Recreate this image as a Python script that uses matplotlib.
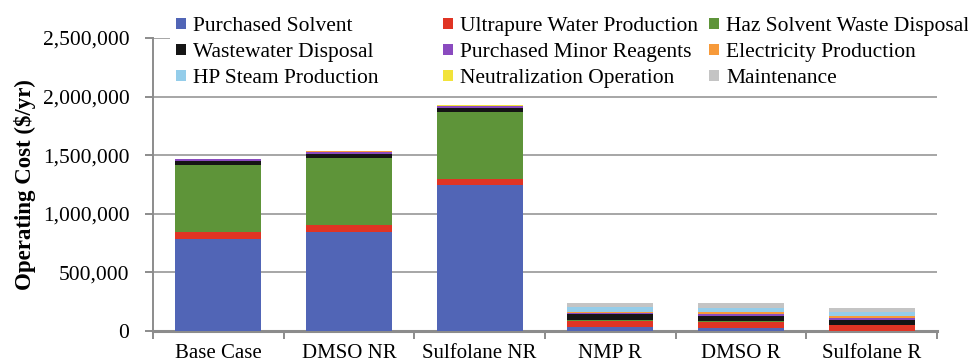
import matplotlib
matplotlib.use("Agg")
import matplotlib.pyplot as plt
from matplotlib.patches import Patch, Rectangle
from matplotlib.ticker import FuncFormatter, FixedLocator
import numpy as np

categories = ["Base Case", "DMSO NR", "Sulfolane NR", "NMP R", "DMSO R", "Sulfolane R"]
series_names = ["Purchased Solvent", "Ultrapure Water Production", "Haz Solvent Waste Disposal",
                "Wastewater Disposal", "Purchased Minor Reagents", "Electricity Production",
                "HP Steam Production", "Neutralization Operation", "Maintenance"]
purchased_solvent = [785000, 842000, 1243000, 32000, 26000, 0]
ultrapure_water = [60000, 60000, 54000, 54000, 51000, 49000]
haz_waste = [572000, 574000, 574000, 12000, 12000, 0]
wastewater = [34000, 34000, 34000, 43000, 43000, 48000]
minor_reagents = [17000, 20000, 17000, 14000, 17000, 14000]
electricity = [2000, 2000, 2000, 6000, 14000, 14000]
hp_steam = [0, 0, 0, 42000, 32000, 37000]
neutralization = [1000, 1000, 1000, 3000, 2000, 2000]
maintenance = [0, 0, 0, 32000, 40000, 31000]
y_ticks = [0, 500000, 1000000, 1500000, 2000000, 2500000]

series = [purchased_solvent, ultrapure_water, haz_waste, wastewater, minor_reagents,
          electricity, hp_steam, neutralization, maintenance]
colors = ["#5165B6", "#E03424", "#5E9439", "#151515", "#8A4ABF", "#F79A3A",
          "#94CDEA", "#F2E33A", "#C4C4C4"]

plt.rcParams['font.family'] = ['Liberation Serif', 'DejaVu Serif']

W, H = 968, 364
fig = plt.figure(figsize=(W / 100, H / 100), dpi=100)
ax = fig.add_axes([153 / W, 1 - 331 / H, (937 - 153) / W, (331 - 38) / H])

x = np.arange(len(categories))
bottom = np.zeros(len(categories))
for vals, c in zip(series, colors):
    v = np.array(vals, dtype=float)
    ax.bar(x, v, width=0.66, bottom=bottom, color=c, edgecolor='none', zorder=3)
    bottom += v

ax.set_xlim(-0.5, len(categories) - 0.5)
ax.set_ylim(0, 2500000)
ax.yaxis.set_major_locator(FixedLocator(y_ticks))
ax.yaxis.set_major_formatter(FuncFormatter(lambda v, p: f"{int(v):,}"))
ax.grid(axis='y', color='#A6A6A6', linewidth=1.4, zorder=0)
ax.set_axisbelow(True)

# x ticks at boundaries, labels at centers
ax.set_xticks(np.arange(-0.5, len(categories), 1.0))
ax.set_xticklabels([])
ax.set_xticks(x, minor=True)
ax.set_xticklabels(categories, minor=True, fontsize=15, family='Liberation Serif')
ax.tick_params(axis='x', which='major', length=6, width=1.4, color='#8C8C8C', direction='out')
ax.tick_params(axis='x', which='minor', length=0, pad=9)
ax.tick_params(axis='y', length=6, width=1.4, color='#8C8C8C', labelsize=15.5, pad=11)
for t in ax.get_yticklabels():
    t.set_family('Liberation Serif')

for s in ['top', 'right']:
    ax.spines[s].set_visible(False)
ax.spines['left'].set_color('#8C8C8C')
ax.spines['left'].set_linewidth(1.4)
ax.spines['bottom'].set_color('#8C8C8C')
ax.spines['bottom'].set_linewidth(2.2)

ax.set_ylabel("Operating Cost ($/yr)", fontsize=16.5, fontweight='bold', labelpad=5,
              family='Liberation Serif')

# white legend background
fig.add_artist(Rectangle((170 / W, 1 - 94 / H), (W - 170) / W, 84 / H,
                         transform=fig.transFigure, facecolor='white', edgecolor='none', zorder=2))

col_x = [176, 443, 709]
for ci in range(3):
    idx = [ci, ci + 3, ci + 6]
    handles = [Patch(facecolor=colors[i], edgecolor='none') for i in idx]
    labels = [series_names[i] for i in idx]
    leg = fig.legend(handles, labels, loc='upper left',
                     bbox_to_anchor=(col_x[ci] / W, 1 - 17 / H), bbox_transform=fig.transFigure,
                     frameon=False, fontsize=15.5, handlelength=0.45, handleheight=0.45,
                     handletextpad=0.35, labelspacing=0.33, borderpad=0, borderaxespad=0,
                     prop={'family': 'Liberation Serif', 'size': 15.5})
    leg.set_zorder(5)

fig.savefig("out.png", dpi=100)
